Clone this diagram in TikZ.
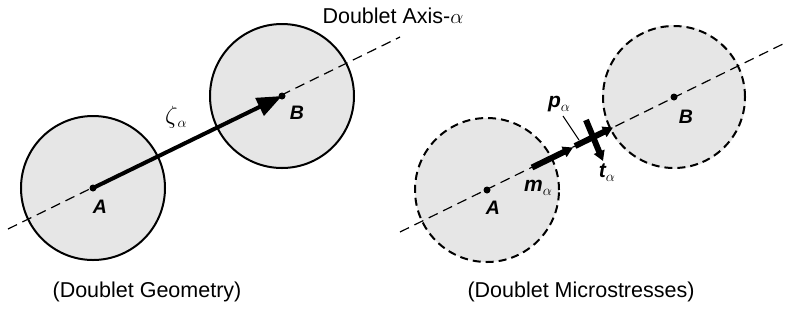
\documentclass[tikz,border=0pt]{standalone}
\usepackage{fontspec}
\setmainfont{Liberation Sans}
\usetikzlibrary{arrows.meta,calc}
\definecolor{discfill}{HTML}{E6E6E6}
\newcommand{\subal}{\raisebox{-4pt}{\fontsize{14}{16}\selectfont$\alpha$}}
\tikzset{
  disc/.style={circle, minimum size=144pt, inner sep=0pt, fill=discfill, draw=none},
  discrim/.style={line width=2pt},
  axisline/.style={line width=1.2pt, dash pattern=on 10pt off 6pt},
  ctr/.style={circle, fill=black, minimum size=7pt, inner sep=0pt},
  ptlabel/.style={font=\fontsize{19.5}{22}\selectfont\bfseries\itshape},
  vlabel/.style={font=\fontsize{21}{24}\selectfont\bfseries\itshape, inner sep=0pt},
  caption/.style={font=\fontsize{21.5}{25}\selectfont},
  zetaarrow/.style={line width=4pt, -{Triangle[length=25pt,width=19pt]}},
  stressarrow/.style={line width=6pt, -{Triangle[length=10pt,width=11pt]}},
  leader/.style={line width=1pt},
}
\begin{document}
\begin{tikzpicture}[x=1pt,y=-1pt]
\useasboundingbox (0,0) rectangle (787,325);
% ---------- left panel ----------
\node[disc] (cA) at (93,188) {};
\node[disc] (cB) at (282,96) {};
\coordinate (axL1) at (8,229);
\coordinate (axL2) at (400,37);
\draw[axisline] (axL1) -- (axL2);
\draw[discrim] (cA.center) circle (72pt);
\draw[discrim] (cB.center) circle (72pt);
\node[ctr] (dA) at (cA.center) {};
\node[ctr] (dB) at (cB.center) {};
\draw[zetaarrow] (dA.center) -- (dB.center);
\node[ptlabel] (lA) at (100,207) {A};
\node[ptlabel] (lB) at (297,113) {B};
\node[inner sep=0pt] (zeta) at (176,117) {\fontsize{23}{26}\selectfont$\zeta$\subal};
\node[caption] (axlabel) at (393,16) {Doublet Axis-$\alpha$};
\node[caption] (cap1) at (147,292) {(Doublet Geometry)};
% ---------- right panel ----------
\node[disc] (rA) at (487,190) {};
\node[disc] (rB) at (674,97) {};
\coordinate (axR1) at (400,232);
\coordinate (axR2) at (787,42);
\draw[axisline] (axR1) -- (axR2);
\draw[discrim, dash pattern=on 8pt off 5pt] (rA.center) circle (72pt);
\draw[discrim, dash pattern=on 8pt off 5pt] (rB.center) circle (71pt);
\node[ctr] (rdA) at (rA.center) {};
\node[ctr] (rdB) at (rB.center) {};
\coordinate (m1) at (532,167.5);
\coordinate (m2) at (573,147.5);
\coordinate (p1) at (575,146);
\coordinate (p2) at (613,127.5);
\coordinate (t1) at (586,120);
\coordinate (t2) at (603,161);
\draw[stressarrow] (m1) -- (m2);
\draw[stressarrow] (p1) -- (p2);
\draw[stressarrow] (t1) -- (t2);
\coordinate (ld1) at (563,116);
\coordinate (ld2) at (579,140);
\draw[leader] (ld1) -- (ld2);
\node[vlabel] (lp) at (559,104) {p\subal};
\node[vlabel] (lt) at (607,173) {t\subal};
\node[vlabel] (lm) at (538,188) {m\subal};
\node[ptlabel] (rlA) at (493,208) {A};
\node[ptlabel] (rlB) at (686,117) {B};
\node[caption] (cap2) at (581,292) {(Doublet Microstresses)};
\end{tikzpicture}
\end{document}
